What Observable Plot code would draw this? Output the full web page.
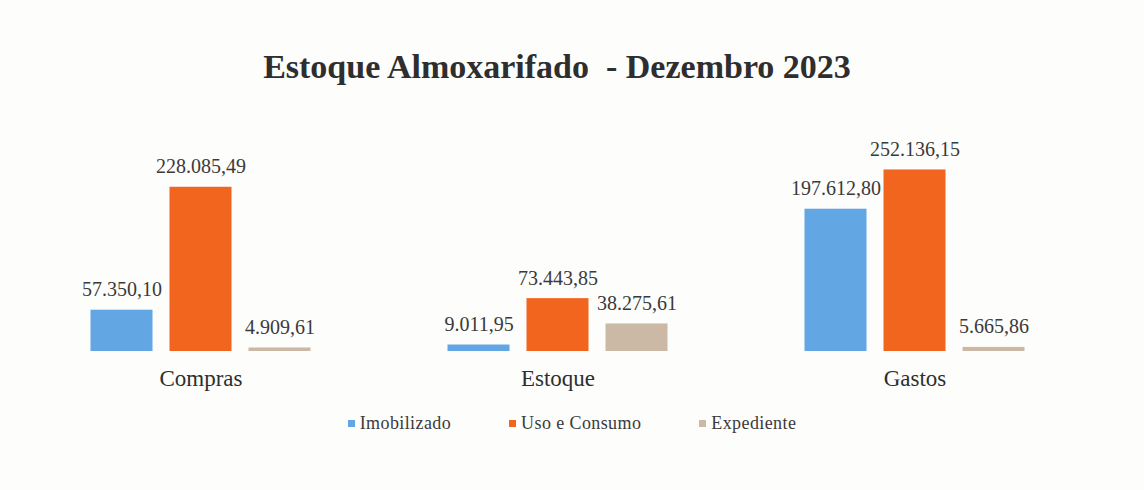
<!DOCTYPE html>
<html>
<head>
<meta charset="utf-8">
<script src="https://cdn.jsdelivr.net/npm/d3@7"></script>
<script src="https://cdn.jsdelivr.net/npm/@observablehq/plot@0.6"></script>
<style>
  html, body { margin: 0; padding: 0; background: #fdfdfc; }
  #wrap { width: 1144px; height: 490px; position: relative; overflow: hidden; }
  #title { height: 52px; padding-top: 48px; box-sizing: content-box; font: bold 34px "Liberation Serif", serif; line-height: 38px; color: #2e2e2e; text-align: center; padding-right: 30px; }
  #legend { display: flex; justify-content: center; margin-top: 13px; }
  .lg-swatches { min-height: 0 !important; margin: 0 !important; }
  .lg-swatch { margin-right: 58px !important; color: #3a3a3a; letter-spacing: 0.4px; }
  .lg-swatch:last-child { margin-right: 0 !important; }
  .lg-swatch > svg { margin-right: 5px !important; }
</style>
</head>
<body>
<div id="wrap">
  <div id="title">Estoque Almoxarifado&nbsp; - Dezembro 2023</div>
  <div id="chart"></div>
  <div id="legend"></div>
</div>
<script>
const categories = ["Compras", "Estoque", "Gastos"];
const series = ["Imobilizado", "Uso e Consumo", "Expediente"];
const imobilizado = [57350.10, 9011.95, 197612.80];
const usoConsumo = [228085.49, 73443.85, 252136.15];
const expediente = [4909.61, 38275.61, 5665.86];
const colors = ["#62a6e4", "#f2651f", "#cbb9a6"];

const seriesValues = [imobilizado, usoConsumo, expediente];
const data = [];
categories.forEach((c, i) => {
  series.forEach((s, j) => {
    data.push({category: c, series: s, value: seriesValues[j][i]});
  });
});

const br = d3.formatLocale({decimal: ",", thousands: ".", grouping: [3], currency: ["R$", ""]});
const fmt = br.format(",.2f");

const plot = Plot.plot({
  width: 1144,
  height: 300,
  marginLeft: 81.5,
  marginRight: 110.5,
  marginTop: 71,
  marginBottom: 49,
  style: {fontFamily: "Liberation Serif, serif", background: "transparent", color: "#3a3a3a"},
  fx: {domain: categories, paddingInner: 0.337, paddingOuter: 0, label: null},
  x: {domain: series, paddingInner: 0.215, paddingOuter: 0.1075, axis: null},
  y: {domain: [0, 250000], axis: null},
  color: {domain: series, range: colors},
  marks: [
    Plot.barY(data, {fx: "category", x: "series", y: "value", fill: "series"}),
    Plot.text(data, {fx: "category", x: "series", y: "value", text: d => fmt(d.value), lineAnchor: "bottom", dy: -14, fontSize: 20, fill: "#3a3a3a"}),
    Plot.axisFx({anchor: "bottom", tickSize: 0, tickPadding: 18, fontSize: 23, label: null, fill: "#2e2e2e"})
  ]
});
document.getElementById("chart").appendChild(plot);

const legend = Plot.legend({
  color: {domain: series, range: colors},
  legend: "swatches",
  swatchSize: 7,
  className: "lg",
  style: {fontFamily: "Liberation Serif, serif", fontSize: "18px"}
});
document.getElementById("legend").appendChild(legend);
</script>
</body>
</html>
